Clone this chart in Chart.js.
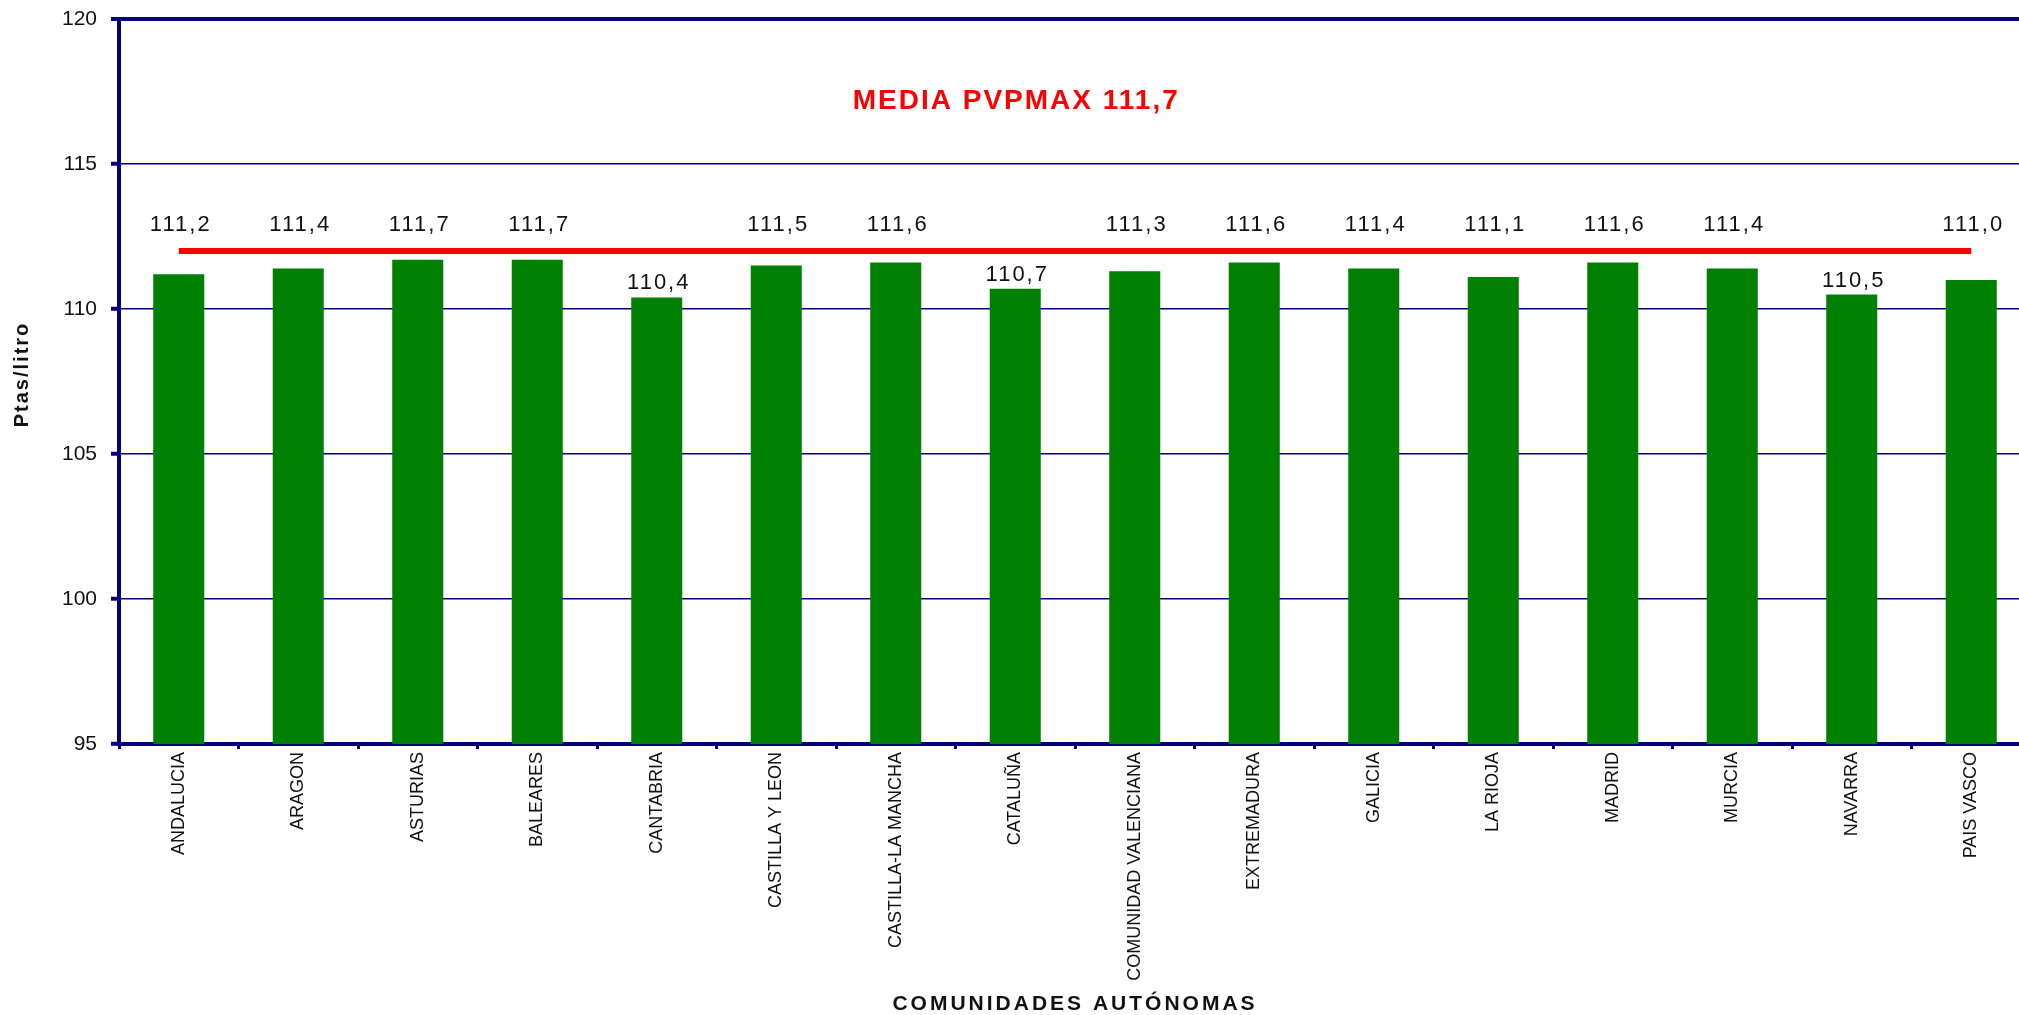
<!DOCTYPE html>
<html>
<head>
<meta charset="utf-8">
<script src="https://cdn.jsdelivr.net/npm/chart.js@4"></script>
<style>
  html, body { margin: 0; padding: 0; background: #fff; overflow: hidden; }
  #wrap { position: absolute; left: 0; top: 0; width: 2040px; height: 1015px; }
</style>
</head>
<body>
<div id="wrap"><canvas id="pvp"></canvas></div>
<script>
var comunidades = ['ANDALUCIA', 'ARAGON', 'ASTURIAS', 'BALEARES', 'CANTABRIA', 'CASTILLA Y LEON',
  'CASTILLA-LA MANCHA', 'CATALUÑA', 'COMUNIDAD VALENCIANA', 'EXTREMADURA', 'GALICIA', 'LA RIOJA',
  'MADRID', 'MURCIA', 'NAVARRA', 'PAIS VASCO'];
var pvpMax = [111.2, 111.4, 111.7, 111.7, 110.4, 111.5, 111.6, 110.7, 111.3, 111.6, 111.4, 111.1, 111.6, 111.4, 110.5, 111.0];
var mediaLinea = [112.0, 112.0, 112.0, 112.0, 112.0, 112.0, 112.0, 112.0, 112.0, 112.0, 112.0, 112.0, 112.0, 112.0, 112.0, 112.0];
var yTicks = [95, 100, 105, 110, 115, 120];
var mediaTexto = 'MEDIA PVPMAX 111,7';
var xTitulo = 'COMUNIDADES AUTÓNOMAS';
var yTitulo = 'Ptas/litro';

var NAVY = '#000080';
var FONT = '"Liberation Sans", Arial, sans-serif';
Chart.defaults.font.family = FONT;

// value labels, the red caption and the axis titles (need letter spacing)
var textos = {
  id: 'textos',
  afterDatasetsDraw: function(chart) {
    var ctx = chart.ctx;
    var area = chart.chartArea;
    var xs = chart.scales.x, ys = chart.scales.y;
    var bars = chart.getDatasetMeta(1).data;

    ctx.save();
    ctx.fillStyle = '#111';
    ctx.font = '22px ' + FONT;
    ctx.textAlign = 'center';
    ctx.textBaseline = 'middle';
    ctx.letterSpacing = '2px';
    bars.forEach(function(bar, i) {
      var lineY = ys.getPixelForValue(mediaLinea[i]);
      var y = bar.y - 14;
      if (y - lineY < 20) y = lineY - 26;
      ctx.fillText(pvpMax[i].toFixed(1).replace('.', ','), bar.x + 2, y);
    });

    ctx.fillStyle = '#ff0000';
    ctx.font = 'bold 28px ' + FONT;
    ctx.letterSpacing = '2px';
    ctx.fillText(mediaTexto, xs.getPixelForValue(7.0) + 1, ys.getPixelForValue(117.17));

    ctx.fillStyle = '#111';
    ctx.font = 'bold 21px ' + FONT;
    ctx.letterSpacing = '3px';
    ctx.textBaseline = 'alphabetic';
    ctx.fillText(xTitulo, (area.left + area.right) / 2, chart.height - 5);

    ctx.font = 'bold 20px ' + FONT;
    ctx.letterSpacing = '2px';
    ctx.translate(28, (area.top + area.bottom) / 2 - 7);
    ctx.rotate(-Math.PI / 2);
    ctx.fillText(yTitulo, 0, 0);
    ctx.restore();
  }
};

var ctx = document.getElementById('pvp').getContext('2d');
var chart = new Chart(ctx, {
  type: 'bar',
  data: {
    labels: comunidades,
    datasets: [{
      type: 'line',
      label: 'MEDIA PVPMAX',
      data: mediaLinea,
      borderColor: '#ff0000',
      borderWidth: 6,
      pointRadius: 0,
      order: 0
    }, {
      label: 'PVPMAX',
      data: pvpMax,
      backgroundColor: '#008000',
      barPercentage: 0.427,
      categoryPercentage: 1.0,
      order: 1
    }]
  },
  options: {
    responsive: true,
    maintainAspectRatio: false,
    animation: false,
    layout: { padding: { top: 19, right: 9, left: 0, bottom: 0 } },
    plugins: {
      legend: { display: false },
      tooltip: { enabled: false }
    },
    scales: {
      x: {
        afterFit: function(s) {
          s.height = 271;
          s.paddingLeft = 0;
          s.paddingRight = 0;
        },
        border: { color: NAVY, width: 4 },
        grid: {
          display: true,
          drawOnChartArea: false,
          offset: true,
          color: NAVY,
          tickLength: 5,
          tickWidth: 3
        },
        ticks: {
          autoSkip: false,
          minRotation: 90,
          maxRotation: 90,
          padding: 3,
          color: '#111',
          font: { size: 18 }
        }
      },
      y: {
        min: 95,
        max: 120,
        afterFit: function(s) {
          s.width = 119;
          s.paddingTop = 0;
          s.paddingBottom = 0;
        },
        afterBuildTicks: function(s) { s.ticks = yTicks.map(function(v) { return { value: v }; }); },
        border: { color: NAVY, width: 4 },
        grid: {
          color: NAVY,
          lineWidth: function(c) { return c.tick && c.tick.value === 120 ? 4 : 1.5; },
          tickLength: 8,
          tickWidth: 4,
          tickColor: NAVY
        },
        ticks: {
          padding: 14,
          color: '#111',
          font: { size: 21 }
        }
      }
    }
  },
  plugins: [textos]
});
</script>
</body>
</html>
